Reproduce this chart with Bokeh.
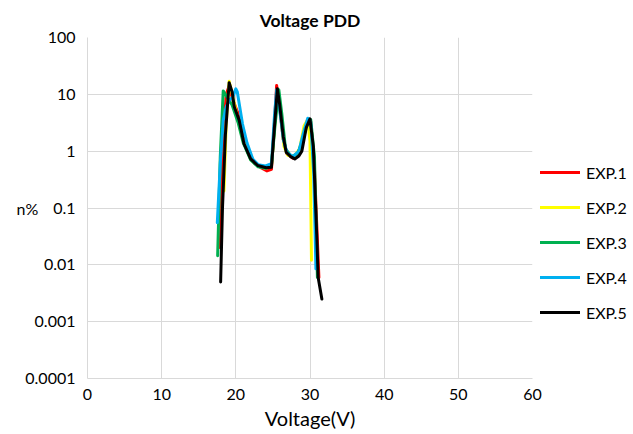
from bokeh.plotting import figure
from bokeh.models import FixedTicker, CustomJSTickFormatter, Legend, LegendItem, Range1d
from bokeh.embed import file_html
from bokeh.resources import INLINE

# ---- data ----
names = ["EXP.1", "EXP.2", "EXP.3", "EXP.4", "EXP.5"]
colors = ["#FF0000", "#FFFF00", "#00B050", "#00B0F0", "#000000"]

v1 = [17.9, 18.3, 18.7, 19.1, 19.6, 20.2, 20.9, 21.6, 22.5, 23.5, 24.2, 24.8, 25.2, 25.5, 25.9, 26.4, 26.9, 27.7, 28.5, 29.2, 29.7, 30.1, 30.6, 31.2]
n1 = [0.02, 1.5, 10.0, 14.0, 8.0, 5.0, 2.2, 1.0, 0.62, 0.5, 0.45, 0.48, 3.0, 14.3, 6.0, 1.6, 0.9, 0.75, 0.9, 2.2, 3.5, 3.3, 0.5, 0.006]

v2 = [18.4, 18.7, 19.1, 19.6, 20.2, 21.0, 22.0, 23.0, 24.0, 24.8, 25.3, 25.6, 26.0, 26.5, 27.0, 27.8, 28.6, 29.2, 29.7, 30.0, 30.2]
n2 = [0.2, 3.0, 17.0, 9.0, 4.0, 1.5, 0.72, 0.55, 0.5, 0.55, 3.5, 12.0, 5.0, 1.2, 0.85, 0.8, 1.1, 2.8, 3.6, 1.5, 0.012]

v3 = [17.55, 17.9, 18.3, 18.8, 19.5, 20.3, 21.0, 22.0, 23.0, 24.0, 24.8, 25.3, 25.8, 26.2, 26.7, 27.5, 28.3, 29.0, 29.6, 30.1, 30.6, 31.0]
n3 = [0.0145, 0.8, 11.5, 9.0, 6.5, 3.2, 1.4, 0.7, 0.53, 0.5, 0.55, 3.0, 12.0, 4.5, 1.1, 0.8, 0.9, 1.5, 3.0, 3.6, 0.8, 0.006]

v4 = [17.5, 17.9, 18.3, 18.7, 19.1, 19.6, 20.0, 20.2, 20.9, 21.5, 22.3, 23.0, 24.0, 24.8, 25.2, 25.5, 25.9, 26.4, 26.9, 27.7, 28.5, 29.2, 29.7, 30.1, 30.5, 30.8]
n4 = [0.055, 0.6, 3.5, 6.0, 7.8, 9.0, 12.5, 11.0, 3.0, 1.4, 0.72, 0.58, 0.55, 0.6, 4.0, 12.0, 5.5, 1.6, 0.95, 0.8, 1.0, 2.3, 3.8, 3.2, 0.4, 0.0085]

v5 = [17.95, 18.2, 18.6, 19.1, 19.5, 19.8, 20.45, 21.1, 22.0, 22.95, 24.1, 24.8, 25.2, 25.6, 25.9, 26.4, 26.8, 27.4, 27.95, 28.5, 28.9, 29.5, 30.0, 30.45, 30.9, 31.1, 31.6]
n5 = [0.005, 0.1, 2.0, 16.0, 11.0, 6.0, 3.5, 1.35, 0.73, 0.56, 0.51, 0.52, 2.6, 12.6, 6.8, 1.8, 0.95, 0.8, 0.73, 0.82, 1.0, 2.6, 3.7, 1.2, 0.035, 0.006, 0.0025]

xs_all = [v1, v2, v3, v4, v5]
ys_all = [n1, n2, n3, n4, n5]

x_ticks = [0, 10, 20, 30, 40, 50, 60]
y_ticks = [0.0001, 0.001, 0.01, 0.1, 1, 10, 100]

FONT = "Lato"
TXT = "#000000"

p = figure(frame_width=445, frame_height=341, y_axis_type="log",
           x_range=Range1d(0, 60), y_range=Range1d(0.0001, 100),
           output_backend="svg", toolbar_location=None,
           min_border_left=87, min_border_right=101,
           min_border_top=37, min_border_bottom=56,
           title="Voltage PDD")

p.title.text_font = FONT
p.title.text_font_size = "17.5px"
p.title.text_font_style = "bold"
p.title.align = "center"
p.title.text_color = TXT
p.title.standoff = 14

p.outline_line_color = None
p.background_fill_color = "white"
p.border_fill_color = "white"

# axes
p.xaxis.ticker = FixedTicker(ticks=x_ticks)
p.yaxis.ticker = FixedTicker(ticks=y_ticks, minor_ticks=[])
p.yaxis.formatter = CustomJSTickFormatter(
    code="return tick >= 1 ? tick.toFixed(0) : tick.toPrecision(1);")
for ax in (p.xaxis[0], p.yaxis[0]):
    ax.major_tick_line_color = None
    ax.minor_tick_line_color = None
    ax.axis_line_color = "#D9D9D9"
    ax.major_label_text_font = FONT
    ax.major_label_text_font_size = "16px"
    ax.major_label_text_color = TXT
    ax.axis_label_text_font = FONT
    ax.axis_label_text_font_style = "normal"
    ax.axis_label_text_color = TXT
p.xaxis.axis_label = "Voltage(V)"
p.xaxis.axis_label_text_font_size = "20px"
p.xaxis.major_label_standoff = 4
p.xaxis.axis_label_standoff = 3
p.yaxis.axis_label = "n%"
p.yaxis.axis_label_text_font_size = "16px"
p.yaxis.major_label_standoff = 6
p.yaxis.axis_label_standoff = -16
try:
    p.yaxis[0].axis_label_orientation = "horizontal"
except Exception:
    pass

p.xgrid.grid_line_color = "#D9D9D9"
p.ygrid.grid_line_color = "#D9D9D9"
p.xgrid.grid_line_width = 1
p.ygrid.grid_line_width = 1

items = []
for name, col, xs, ys in zip(names, colors, xs_all, ys_all):
    r = p.line(xs, ys, line_color=col, line_width=3, line_join="round", line_cap="round")
    items.append(LegendItem(label=name, renderers=[r]))

legend = Legend(items=items, location=(8, 56),
                glyph_width=40, glyph_height=20, label_height=20,
                label_standoff=6, spacing=15, padding=0, margin=0,
                border_line_color=None, background_fill_alpha=0,
                label_text_font=FONT, label_text_font_size="16px",
                label_text_color=TXT)
p.add_layout(legend, "right")

open("out.html", "w").write(file_html(p, INLINE))
